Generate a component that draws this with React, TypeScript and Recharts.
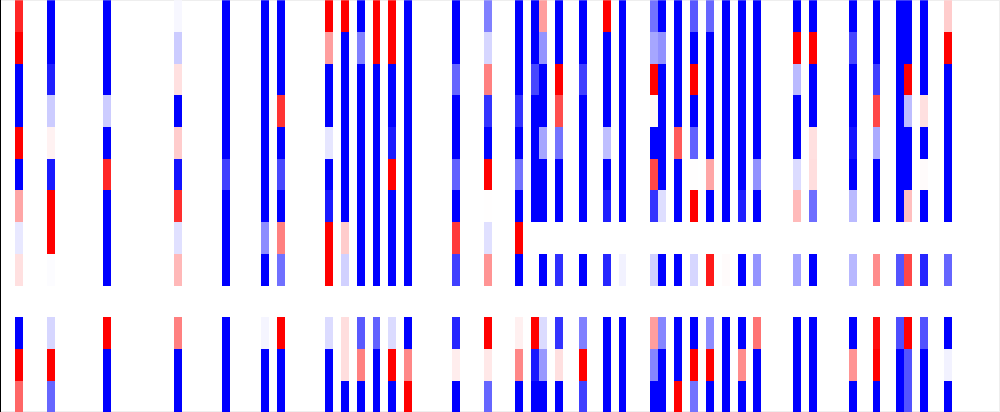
import { BarChart, Bar, XAxis, YAxis, Rectangle } from "recharts";

const COLUMN_COUNT = 126;
const ROW_COUNT = 13;
const COLUMN_WIDTH = 7.936;

// Signed strength per cell, top row first: -1 full blue, 1 full red, null empty.
const c02 = [0.85, 1, -1, -1, 1, -1, 0.35, -0.09, 0.12, null, -1, 1, 0.6];
const c06 = [-1, -1, -0.88, -0.2, 0.05, -0.9, 1, 1, -0.01, null, -0.16, 1, -0.6];
const c13 = [-1, -1, -1, -0.2, -1, 0.85, -1, -1, -1, null, 1, -1, -1];
const c22 = [-0.03, -0.2, 0.12, -1, 0.2, -0.93, 0.82, -0.12, 0.28, null, 0.5, -1, -1];
const c28 = [-1, -1, -1, -1, -1, -0.75, -1, -1, -1, null, -1, -1, -1];
const c33 = [-1, -1, -1, -1, -1, -1, -1, -0.45, -1, null, -0.04, -1, -1];
const c35 = [-1, -1, -1, 0.8, -1, -0.72, -1, 0.5, -0.56, null, 1, -1, -1];
const c41 = [1, 0.38, -1, -1, -0.1, -1, -0.9, 1, 1, null, -0.14, -1, -1];
const c43 = [1, -1, -1, -1, -1, -1, -1, 0.2, -0.18, null, 0.13, 0.13, -1];
const c45 = [-1, -0.5, -1, -1, -1, -1, -1, -1, -1, null, -0.65, 0.5, -1];
const c47 = [1, 1, -1, -1, -1, -1, -1, -1, -1, null, -0.62, -1, -1];
const c49 = [1, 1, -1, -1, -0.9, 1, -1, -1, -1, null, -0.14, 1, -1];
const c51 = [-1, -1, -1, -1, -1, -1, -1, -1, -1, null, -1, 0.47, 1];
const c57 = [-1, -1, -0.6, -1, -1, -0.62, -1, 0.77, -0.75, null, -0.85, 0.07, -1];
const c61 = [-0.5, -0.16, 0.5, -0.8, -1, 1, 0.005, -0.12, 0.42, null, 1, 0.09, -0.6];
const c65 = [-1, -1, -1, -0.8, -1, -0.55, -1, 1, -1, null, 0.06, 0.47, -1];
const c67 = [-1, -1, -0.72, -1, -1, -1, -1, null, null, null, 1, -0.9, -1];
const c68 = [0.38, -0.42, -1, -1, -0.35, -1, -1, null, -1, null, -0.14, -0.4, -1];
const c70 = [-1, -1, 1, 0.7, -0.55, -1, -1, null, -0.82, null, -0.8, 0.12, -1];
const c73 = [-1, -1, -0.75, -1, -1, -1, -1, null, -1, null, -0.5, 1, -0.75];
const c76 = [1, -1, -1, -1, -0.25, -1, -0.88, null, -0.85, null, -1, -1, -1];
const c78 = [-1, -1, -1, -1, -1, -1, -1, null, -0.05, null, -1, -1, -1];
const c82 = [-0.55, -0.35, 1, 0.03, -1, 0.72, -0.8, null, -0.18, null, 0.38, -0.48, -1];
const c83 = [-1, -0.43, -1, -1, -1, -1, -0.13, null, -1, null, -0.48, -1, -1];
const c85 = [-1, -1, -1, -1, 0.65, -1, -1, null, -1, null, -1, -1, 1];
const c87 = [-0.65, -1, 1, -1, -0.62, 0.005, 1, null, -0.16, null, -1, 1, -0.55];
const c89 = [-0.6, -1, -1, -1, -1, 0.35, -1, null, 0.9, null, -0.45, 1, -1];
const c91 = [-1, -1, -1, -1, -1, -1, -1, null, 0.015, null, -1, -1, -1];
const c93 = [-1, -1, -1, -1, -1, -1, -0.88, null, -1, null, -1, 0.45, -1];
const c95 = [-1, -1, -1, -1, -1, -0.43, -1, null, -0.42, null, 0.55, -1, -1];
const c100 = [-1, 1, -0.27, -1, -1, -0.14, 0.27, null, -0.36, null, -1, -1, -1];
const c102 = [-1, 1, -1, -1, 0.12, 0.13, -0.57, null, -1, null, -1, -1, -1];
const c107 = [-1, -0.72, -1, -1, -0.92, -1, -0.27, null, -0.28, null, -1, 0.42, -1];
const c110 = [-1, -1, -0.75, 0.72, -0.33, -1, -1, null, 0.45, null, 0.95, 1, -1];
const c113 = [-1, -1, -1, -1, -1, -1, -1, null, -0.67, null, -0.7, -1, -1];
const c114 = [-1, -1, 1, -0.26, -1, -1, 0.25, null, 0.72, null, 1, -0.67, -0.67];
const c116 = [-1, -1, -1, 0.12, -1, 0.015, -1, null, -0.85, null, -0.68, -1, -1];
const c119 = [0.2, 1, -1, -1, -1, -1, -1, null, -0.6, null, -1, -0.05, -1];

const filledColumns: Record<number, (number | null)[]> = {
  2: c02, 6: c06, 13: c13, 22: c22, 28: c28, 33: c33, 35: c35, 41: c41, 43: c43,
  45: c45, 47: c47, 49: c49, 51: c51, 57: c57, 61: c61, 65: c65, 67: c67, 68: c68,
  70: c70, 73: c73, 76: c76, 78: c78, 82: c82, 83: c83, 85: c85, 87: c87, 89: c89,
  91: c91, 93: c93, 95: c95, 100: c100, 102: c102, 107: c107, 110: c110, 113: c113,
  114: c114, 116: c116, 119: c119,
};

const rows = Array.from({ length: ROW_COUNT }, (_, r) => r);

// Every cell is one unit tall, so the stack fills the y axis row by row.
const tableData = Array.from({ length: COLUMN_COUNT }, (_, col) => {
  const entry: Record<string, number> = { col };
  rows.forEach((r) => {
    entry[`r${r}`] = 1;
  });
  return entry;
});

const cellColor = (value: number | null | undefined) => {
  if (value === null || value === undefined) return "none";
  const fade = Math.round(255 * (1 - Math.abs(value)));
  return value < 0 ? `rgb(${fade},${fade},255)` : `rgb(255,${fade},${fade})`;
};

export default function App() {
  return (
    <div
      style={{
        position: "absolute",
        left: 0,
        top: 0,
        width: 1000,
        height: 412,
        background: "#fff",
        boxShadow: "inset 1px 0 0 #000, inset 0 0 0 1px #eee",
      }}
    >
      <BarChart
        width={1000}
        height={412}
        data={tableData}
        barCategoryGap={0}
        margin={{ top: 0.25, right: 0.51, bottom: -0.3, left: -0.45 }}
        style={{ shapeRendering: "crispEdges" }}
      >
        <XAxis dataKey="col" hide />
        <YAxis domain={[0, ROW_COUNT]} reversed hide allowDataOverflow />
        {rows.map((r) => (
          <Bar
            key={r}
            dataKey={`r${r}`}
            stackId="cells"
            isAnimationActive={false}
            shape={(props: any) => (
              // Recharts truncates the band to whole pixels, so restore the real column width
              <Rectangle
                x={props.x}
                y={props.y}
                width={COLUMN_WIDTH}
                height={props.height}
                fill={cellColor(filledColumns[props.payload.col]?.[r])}
              />
            )}
          />
        ))}
      </BarChart>
    </div>
  );
}
